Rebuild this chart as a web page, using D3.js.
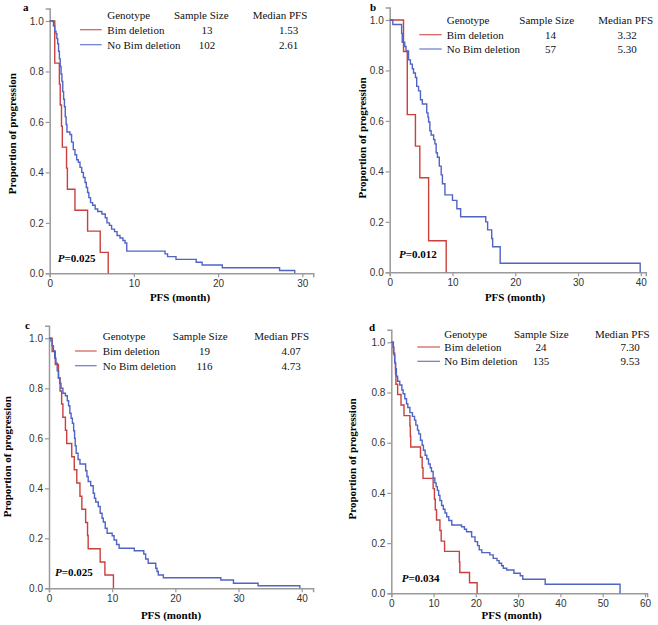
<!DOCTYPE html>
<html><head><meta charset="utf-8">
<script src="https://cdn.jsdelivr.net/npm/d3@7"></script>
<style>body{margin:0;background:#fff}svg{display:block}</style>
</head><body>
<svg id="c" width="658" height="625"></svg>
<script>
// ---------- DATA ----------
const panelLetters = ["a", "b", "c", "d"];
const legendHeaders = ["Genotype", "Sample Size", "Median PFS"];
const genotypes = ["Bim deletion", "No Bim deletion"];
const sampleSizes = [[13, 102], [14, 57], [19, 116], [24, 135]];
const medianPFS = [["1.53", "2.61"], ["3.32", "5.30"], ["4.07", "4.73"], ["7.30", "9.53"]];
const pValues = ["0.025", "0.012", "0.025", "0.034"];
const yTicks = [0, 0.2, 0.4, 0.6, 0.8, 1.0];
const xTicksA = [0, 10, 20, 30];
const xTicksB = [0, 10, 20, 30, 40];
const xTicksC = [0, 10, 20, 30, 40];
const xTicksD = [0, 10, 20, 30, 40, 50, 60];

// step events [time (months), proportion after the event]
const bimA = [[0.6,0.833],[1.15,0.75],[1.25,0.667],[1.4,0.583],[1.5,0.5],[2.0,0.417],[2.1,0.333],[3.0,0.25],[4.5,0.167],[6.0,0.083],[6.95,0]];
const noBimA = [[0.45,0.98],[0.6,0.96],[0.75,0.95],[0.85,0.93],[0.95,0.91],[1.05,0.88],[1.15,0.85],[1.25,0.82],[1.35,0.79],[1.45,0.76],[1.55,0.72],[1.65,0.69],[1.75,0.66],[1.85,0.62],[1.95,0.59],[2.05,0.56],[2.4,0.55],[2.6,0.52],[2.8,0.49],[3.0,0.47],[3.2,0.45],[3.4,0.44],[3.6,0.42],[3.8,0.40],[4.0,0.38],[4.2,0.36],[4.35,0.34],[4.5,0.32],[4.65,0.30],[4.85,0.28],[5.1,0.27],[5.4,0.255],[5.7,0.245],[6.2,0.235],[6.6,0.22],[6.8,0.20],[7.1,0.19],[7.35,0.175],[7.7,0.165],[8.0,0.15],[8.35,0.14],[8.7,0.13],[8.95,0.12],[9.15,0.088],[13.7,0.077],[14.0,0.066],[15.0,0.055],[17.4,0.044],[18.1,0.033],[20.5,0.022],[27.3,0.011],[29.1,0]];
const bimB = [[2.2,0.875],[2.8,0.625],[4.1,0.5],[4.8,0.375],[6.2,0.125],[9.0,0]];
const noBimB = [[0.5,0.982],[1.9,0.947],[2.0,0.912],[2.4,0.895],[2.6,0.877],[3.0,0.842],[3.3,0.825],[3.6,0.807],[3.8,0.79],[4.1,0.772],[4.3,0.737],[4.6,0.719],[4.9,0.684],[5.2,0.667],[5.9,0.632],[6.1,0.614],[6.2,0.596],[6.4,0.561],[6.6,0.544],[7.0,0.526],[7.2,0.509],[7.4,0.474],[7.6,0.456],[7.9,0.421],[8.2,0.386],[8.4,0.351],[8.8,0.307],[10.0,0.285],[10.7,0.252],[11.3,0.22],[15.3,0.2],[15.6,0.168],[16.25,0.134],[16.4,0.101],[17.6,0.036],[39.9,0]];
const bimC = [[0.5,0.947],[1.0,0.895],[1.5,0.842],[1.75,0.789],[2.0,0.737],[2.2,0.684],[2.6,0.632],[2.8,0.579],[3.6,0.526],[4.0,0.474],[4.4,0.421],[4.9,0.368],[5.2,0.316],[5.8,0.263],[6.1,0.211],[6.2,0.158],[8.1,0.105],[8.85,0.053],[10.2,0]];
const noBimC = [[0.3,0.99],[0.5,0.97],[0.7,0.95],[0.9,0.92],[1.1,0.9],[1.3,0.87],[1.5,0.84],[1.7,0.82],[1.9,0.8],[2.2,0.78],[2.6,0.77],[2.9,0.75],[3.1,0.73],[3.3,0.7],[3.5,0.68],[3.7,0.66],[3.9,0.63],[4.05,0.6],[4.15,0.57],[4.3,0.54],[4.6,0.515],[4.9,0.497],[5.8,0.47],[6.0,0.447],[6.2,0.427],[6.6,0.41],[7.0,0.38],[7.2,0.36],[7.4,0.345],[7.8,0.327],[8.1,0.3],[8.4,0.28],[8.6,0.265],[8.9,0.24],[9.2,0.22],[10.0,0.21],[10.3,0.193],[10.7,0.175],[11.1,0.16],[13.5,0.15],[15.0,0.137],[15.3,0.117],[15.7,0.1],[16.9,0.08],[17.1,0.067],[17.3,0.053],[18.1,0.042],[27.2,0.033],[29.2,0.02],[33.1,0.01],[39.7,0]];
const bimD = [[0.5,0.958],[0.8,0.917],[1.0,0.875],[1.1,0.833],[1.5,0.792],[2.3,0.75],[3.0,0.708],[4.4,0.667],[4.5,0.625],[4.6,0.583],[6.9,0.542],[7.3,0.5],[7.5,0.458],[9.9,0.417],[10.2,0.375],[10.4,0.333],[10.7,0.292],[11.5,0.25],[11.8,0.208],[12.6,0.167],[16.1,0.125],[16.2,0.083],[18.5,0.042],[20.3,0]];
const noBimD = [[0.4,0.98],[0.6,0.95],[0.8,0.92],[1.0,0.895],[1.2,0.865],[1.5,0.845],[2.0,0.83],[2.5,0.81],[2.8,0.795],[3.2,0.775],[3.6,0.755],[3.9,0.74],[4.4,0.72],[5.0,0.705],[5.5,0.69],[5.8,0.67],[6.2,0.65],[6.5,0.635],[6.9,0.61],[7.3,0.59],[7.6,0.57],[8.0,0.55],[8.4,0.535],[8.8,0.515],[9.2,0.5],[9.5,0.485],[9.9,0.46],[10.3,0.44],[10.6,0.425],[10.9,0.41],[11.2,0.39],[11.5,0.37],[11.9,0.35],[12.3,0.335],[12.7,0.32],[13.1,0.305],[13.6,0.29],[14.3,0.272],[16.6,0.265],[17.3,0.255],[17.8,0.245],[19.0,0.225],[19.8,0.206],[20.4,0.19],[20.8,0.173],[21.4,0.162],[23.3,0.153],[24.1,0.139],[25.0,0.13],[25.5,0.12],[26.1,0.11],[26.5,0.1],[27.3,0.093],[29.0,0.08],[30.5,0.07],[31.1,0.056],[36.4,0.036],[54.1,0]];

// ---------- LAYOUT ----------
const RED = "#c9403c", BLUE = "#5064c4", AXIS = "#9a9a9a";
const serif = "'Liberation Serif','Times New Roman',serif";
const sans = "'Liberation Sans',Arial,sans-serif";

const panels = [
  {xMax:31.3, x0:49.7, pxPerUnit:8.42, y0:273.3, y1:21, xTicks:xTicksA, series:[bimA,noBimA],
   letter:[23,7], yTitle:[12.5,133.7], xTitle:[180,297], p:[57.7,257.7],
   leg:{l1:80,l2:101.7,tx:107.3,sh:201.3,sv:207,mh:280,mv:288.5,yh:15,r1:29.7,r2:44.7}},
  {xMax:40.8, x0:389.7, pxPerUnit:6.2775, y0:272.3, y1:20, xTicks:xTicksB, series:[bimB,noBimB],
   letter:[370,7], yTitle:[362.3,138], xTitle:[515,297], p:[399,254.3],
   leg:{l1:419.3,l2:441.7,tx:446.7,sh:546.7,sv:550.5,mh:625.7,mv:627,yh:20,r1:34.7,r2:49}},
  {xMax:41.8, x0:49, pxPerUnit:6.3175, y0:588.3, y1:338.3, xTicks:xTicksC, series:[bimC,noBimC],
   letter:[25,325], yTitle:[7.5,456.7], xTitle:[171,615], p:[55,572.3],
   leg:{l1:75,l2:96.7,tx:102.7,sh:200.2,sv:204.5,mh:281.7,mv:291,yh:336,r1:351,r2:365.7}},
  {xMax:60.5, x0:391.3, pxPerUnit:4.228, y0:593.3, y1:342.3, xTicks:xTicksD, series:[bimD,noBimD],
   letter:[369,327], yTitle:[352.3,459], xTitle:[511.7,615], p:[401.7,577.7],
   leg:{l1:417.3,l2:440,tx:444.3,sh:541.3,sv:541,mh:622.3,mv:630,yh:334.3,r1:347,r2:361.3}}
];

const svg = d3.select("#c");
const colors = [RED, BLUE];

panels.forEach((P, i) => {
  const g = svg.append("g");
  const x = d3.scaleLinear().domain([0, P.xMax]).range([P.x0, P.x0 + P.pxPerUnit * P.xMax]);
  const y = d3.scaleLinear().domain([0, 1.05]).range([P.y0, P.y0 - (P.y0 - P.y1) * 1.05]);

  // axes
  const xa = g.append("g").attr("transform", `translate(0,${P.y0})`)
    .call(d3.axisBottom(x).tickValues(P.xTicks).tickFormat(d3.format("d")).tickSizeOuter(0).tickSize(4).tickPadding(3));
  const ya = g.append("g").attr("transform", `translate(${P.x0},0)`)
    .call(d3.axisLeft(y).tickValues(yTicks).tickFormat(d3.format(".1f")).tickSizeOuter(0).tickSize(4).tickPadding(2));
  [xa, ya].forEach(a => {
    a.select(".domain").attr("stroke", AXIS).attr("stroke-width", 1.5);
    a.selectAll(".tick line").attr("stroke", AXIS).attr("stroke-width", 1.2);
    a.selectAll(".tick text").attr("fill", "#333").style("font-family", sans).style("font-size", "10px");
  });

  // curves
  const line = d3.line().x(d => x(d[0])).y(d => y(d[1])).curve(d3.curveStepAfter);
  P.series.forEach((s, k) => {
    g.append("path").datum([[0, 1]].concat(s)).attr("d", line)
      .attr("fill", "none").attr("stroke", colors[k]).attr("stroke-width", 1.4);
  });

  // legend
  const L = P.leg;
  const hdr = g.append("g").style("font-family", serif).style("font-size", "11px").attr("fill", "#111");
  hdr.append("text").attr("x", L.tx).attr("y", L.yh).attr("dy", "0.35em").text(legendHeaders[0]);
  hdr.append("text").attr("x", L.sh).attr("y", L.yh).attr("dy", "0.35em").attr("text-anchor", "middle").text(legendHeaders[1]);
  hdr.append("text").attr("x", L.mh).attr("y", L.yh).attr("dy", "0.35em").attr("text-anchor", "middle").text(legendHeaders[2]);
  [L.r1, L.r2].forEach((ry, k) => {
    hdr.append("line").attr("x1", L.l1).attr("x2", L.l2).attr("y1", ry).attr("y2", ry)
      .attr("stroke", colors[k]).attr("stroke-width", 1.2).attr("opacity", 0.85);
    hdr.append("text").attr("x", L.tx).attr("y", ry).attr("dy", "0.35em").text(genotypes[k]);
    hdr.append("text").attr("x", L.sv).attr("y", ry).attr("dy", "0.35em").attr("text-anchor", "middle").text(sampleSizes[i][k]);
    hdr.append("text").attr("x", L.mv).attr("y", ry).attr("dy", "0.35em").attr("text-anchor", "middle").text(medianPFS[i][k]);
  });

  // letters & titles
  g.append("text").attr("x", P.letter[0]).attr("y", P.letter[1]).attr("dy", "0.35em")
    .style("font-family", serif).style("font-size", "11px").style("font-weight", "bold").text(panelLetters[i]);
  g.append("text").attr("transform", `translate(${P.yTitle[0]},${P.yTitle[1]}) rotate(-90)`)
    .attr("text-anchor", "middle").attr("dy", "0.35em")
    .style("font-family", serif).style("font-size", "11px").style("font-weight", "bold").text("Proportion of progression");
  g.append("text").attr("x", P.xTitle[0]).attr("y", P.xTitle[1]).attr("dy", "0.35em").attr("text-anchor", "middle")
    .style("font-family", serif).style("font-size", "11px").style("font-weight", "bold").text("PFS (month)");
  const pt = g.append("text").attr("x", P.p[0]).attr("y", P.p[1]).attr("dy", "0.35em")
    .style("font-family", serif).style("font-size", "11px").style("font-weight", "bold");
  pt.append("tspan").style("font-style", "italic").text("P");
  pt.append("tspan").text("=" + pValues[i]);
});
</script>
</body></html>
